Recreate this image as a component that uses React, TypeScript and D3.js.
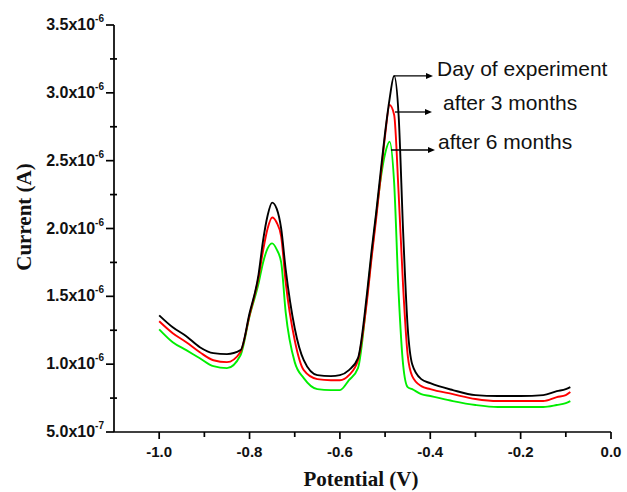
import React from "react";
import * as d3 from "d3";

const potential = [-1.0, -0.97, -0.94, -0.91, -0.88, -0.85, -0.82, -0.80, -0.78, -0.77, -0.76, -0.75, -0.74, -0.73, -0.72, -0.70, -0.68, -0.65, -0.62, -0.60, -0.58, -0.56, -0.54, -0.53, -0.52, -0.51, -0.50, -0.49, -0.48, -0.47, -0.46, -0.45, -0.44, -0.42, -0.40, -0.35, -0.30, -0.25, -0.20, -0.15, -0.12, -0.10, -0.09];

// currents in units of 1e-6 A
const dayOfExperiment = [1.360, 1.272, 1.206, 1.125, 1.081, 1.074, 1.103, 1.375, 1.662, 1.912, 2.096, 2.191, 2.147, 2.000, 1.699, 1.265, 1.029, 0.919, 0.912, 0.919, 0.956, 1.044, 1.522, 1.831, 2.110, 2.412, 2.706, 2.956, 3.125, 2.831, 1.971, 1.272, 1.000, 0.890, 0.860, 0.809, 0.772, 0.765, 0.765, 0.772, 0.801, 0.816, 0.831];
const after3Months = [1.316, 1.228, 1.162, 1.088, 1.029, 1.015, 1.090, 1.360, 1.640, 1.838, 2.000, 2.081, 2.044, 1.941, 1.603, 1.176, 0.956, 0.890, 0.882, 0.882, 0.919, 1.029, 1.471, 1.779, 2.066, 2.375, 2.684, 2.910, 2.838, 2.257, 1.566, 1.066, 0.912, 0.838, 0.816, 0.779, 0.743, 0.728, 0.728, 0.728, 0.757, 0.772, 0.794];
const after6Months = [1.257, 1.162, 1.103, 1.044, 0.985, 0.971, 1.066, 1.353, 1.596, 1.750, 1.853, 1.890, 1.846, 1.750, 1.382, 1.015, 0.897, 0.816, 0.809, 0.809, 0.882, 0.971, 1.493, 1.800, 2.090, 2.360, 2.551, 2.640, 2.338, 1.522, 0.993, 0.831, 0.816, 0.779, 0.765, 0.728, 0.699, 0.684, 0.684, 0.684, 0.699, 0.713, 0.728];

const seriesNames = ["Day of experiment", "after 3 months", "after 6 months"];
const seriesColors = ["#000000", "#ff0000", "#00ee00"];

const xTicks = [-1.0, -0.8, -0.6, -0.4, -0.2, 0.0];
const xMinorTicks = [-0.9, -0.7, -0.5, -0.3, -0.1];
const yTicks = [5e-7, 1.0e-6, 1.5e-6, 2.0e-6, 2.5e-6, 3.0e-6, 3.5e-6];
const yMinorTicks = [0.75e-6, 1.25e-6, 1.75e-6, 2.25e-6, 2.75e-6, 3.25e-6];

export default function App() {
  const x = d3.scaleLinear().domain([-1.1, 0]).range([114, 611]);
  const y = d3.scaleLinear().domain([5e-7, 3.5e-6]).range([432, 25]);

  const allSeries = [dayOfExperiment, after3Months, after6Months];
  const line = d3
    .line<number>()
    .x((_, i) => x(potential[i]))
    .y((d) => y(d * 1e-6))
    .curve(d3.curveMonotoneX);

  const fmtY = (v: number) => {
    const e = Math.floor(Math.log10(v) + 1e-9);
    const m = v / Math.pow(10, e);
    return { m: m.toFixed(1), e: String(e) };
  };

  const peakIdx = allSeries.map((s) => s.indexOf(Math.max(...s.slice(20))));
  const annY = [y(dayOfExperiment[peakIdx[0]] * 1e-6), 112, 150];
  const annStartX = [x(potential[peakIdx[0]]), 395, 391];
  const annEndX = [433, 432, 435];
  const textX = [437, 443, 438];
  const textBase = [76, 110, 149];

  return (
    <svg
      width={627}
      height={492}
      style={{ position: "absolute", left: 0, top: 0, background: "#fff" }}
      fontFamily="Arial, 'Liberation Sans', sans-serif"
    >
      <rect width={627} height={492} fill="#fff" />
      {[2, 1, 0].map((k) => (
        <path
          key={k}
          d={line(allSeries[k]) || ""}
          fill="none"
          stroke={seriesColors[k]}
          strokeWidth={1.9}
          strokeLinejoin="round"
        />
      ))}

      <line x1={x(-1.1)} x2={x(0)} y1={432} y2={432} stroke="#000" strokeWidth={1.7} />
      <line x1={114} x2={114} y1={y(3.5e-6)} y2={432} stroke="#000" strokeWidth={1.7} />
      {xTicks.map((t) => (
        <g key={t}>
          <line x1={x(t)} x2={x(t)} y1={432} y2={439} stroke="#000" strokeWidth={1.7} />
          <text x={x(t)} y={457} textAnchor="middle" fontSize={15} fontWeight="bold" fill="#111">
            {t.toFixed(1)}
          </text>
        </g>
      ))}
      {xMinorTicks.map((t) => (
        <line key={t} x1={x(t)} x2={x(t)} y1={432} y2={437} stroke="#000" strokeWidth={1.7} />
      ))}
      {yTicks.map((t) => {
        const f = fmtY(t);
        return (
          <g key={t}>
            <line x1={106} x2={114} y1={y(t)} y2={y(t)} stroke="#000" strokeWidth={1.7} />
            <text x={104} y={y(t) + 5} textAnchor="end" fontSize={16} fontWeight="bold" fill="#111">
              {f.m + "x10"}
              <tspan fontSize={10} dy={-8}>{f.e}</tspan>
            </text>
          </g>
        );
      })}
      {yMinorTicks.map((t) => (
        <line key={t} x1={110} x2={117} y1={y(t)} y2={y(t)} stroke="#000" strokeWidth={1.7} />
      ))}

      <text
        x={361}
        y={486}
        textAnchor="middle"
        fontFamily="'Liberation Serif', 'Times New Roman', serif"
        fontWeight="bold"
        fontSize={21}
        fill="#111"
      >
        Potential (V)
      </text>
      <text
        transform={`translate(31,217) rotate(-90)`}
        textAnchor="middle"
        fontFamily="'Liberation Serif', 'Times New Roman', serif"
        fontWeight="bold"
        fontSize={21}
        fill="#111"
      >
        Current (A)
      </text>

      {seriesNames.map((name, k) => (
        <g key={name}>
          <line x1={annStartX[k]} x2={annEndX[k] - 5} y1={annY[k]} y2={annY[k]} stroke="#000" strokeWidth={1.3} />
          <path
            d={`M${annEndX[k]},${annY[k]} L${annEndX[k] - 7},${annY[k] - 3} L${annEndX[k] - 7},${annY[k] + 3} Z`}
            fill="#000"
          />
          <text x={textX[k]} y={textBase[k]} fontSize={21} fill="#111">
            {name}
          </text>
        </g>
      ))}
    </svg>
  );
}
